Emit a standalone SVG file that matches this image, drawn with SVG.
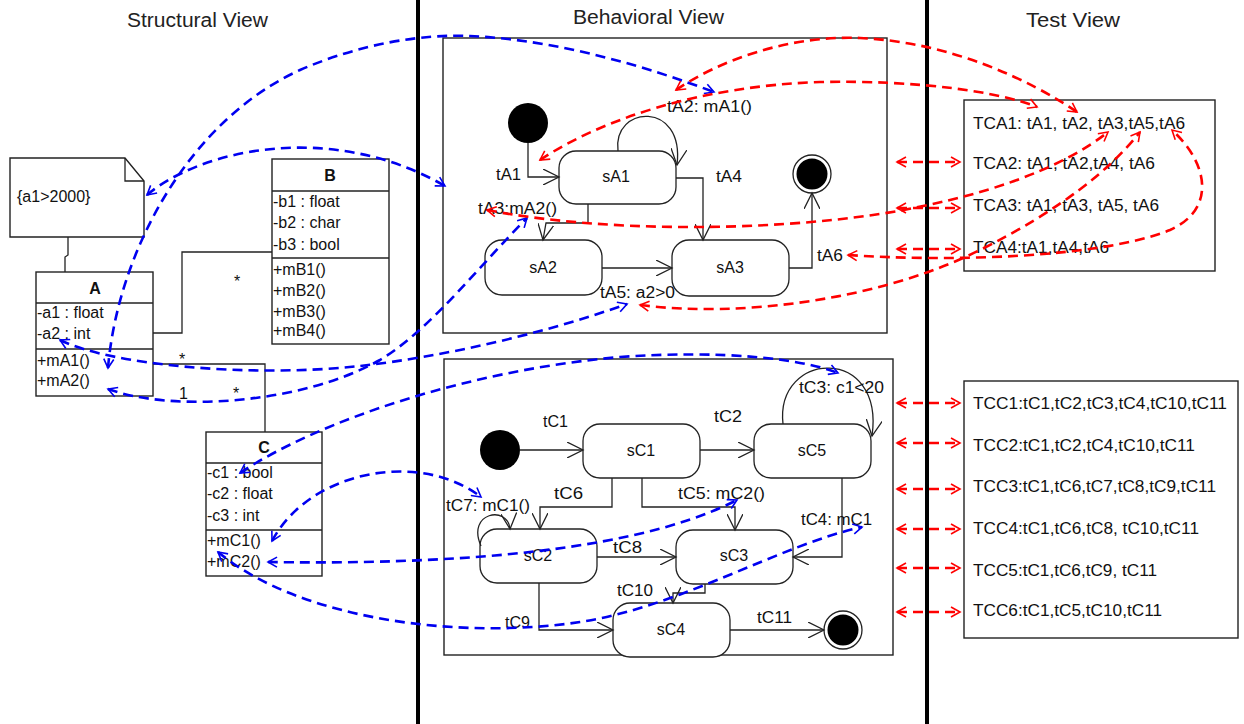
<svg xmlns="http://www.w3.org/2000/svg" width="1244" height="724" viewBox="0 0 1244 724">
<style>
text{font-family:"Liberation Sans",Arial,sans-serif;font-size:16px;fill:#111}
.title{font-size:20px;fill:#222}
.bold{font-weight:bold}
.box{fill:#fff;stroke:#222;stroke-width:1.4}
.frame{fill:none;stroke:#222;stroke-width:1.4}
.state{fill:#fff;stroke:#222;stroke-width:1.3}
.tr{fill:none;stroke:#222;stroke-width:1.3;marker-end:url(#open)}
.line{fill:none;stroke:#222;stroke-width:1.3}
.div{stroke:#000;stroke-width:4}
.blue{fill:none;stroke:#0000f0;stroke-width:2.6;stroke-dasharray:10 6;marker-start:url(#bArr);marker-end:url(#bArr)}
.red{fill:none;stroke:#f00;stroke-width:2.6;stroke-dasharray:10 6;marker-start:url(#rArr);marker-end:url(#rArr)}
.c{text-anchor:middle}
</style>
<defs>
<marker id="open" markerUnits="userSpaceOnUse" viewBox="0 0 18 16" markerWidth="18" markerHeight="16" refX="16" refY="8" orient="auto">
<path d="M0,0 L16,8 L0,16" fill="none" stroke="#222" stroke-width="1.3"/>
</marker>
<marker id="bArr" markerUnits="userSpaceOnUse" viewBox="0 0 12 12" markerWidth="12" markerHeight="12" refX="10" refY="6" orient="auto-start-reverse">
<path d="M1,1 L10,6 L1,11" fill="none" stroke="#0000f0" stroke-width="1.6"/>
</marker>
<marker id="rArr" markerUnits="userSpaceOnUse" viewBox="0 0 12 12" markerWidth="12" markerHeight="12" refX="10" refY="6" orient="auto-start-reverse">
<path d="M1,1 L10,6 L1,11" fill="none" stroke="#f00" stroke-width="1.6"/>
</marker>
</defs>
<rect width="1244" height="724" fill="#fff"/>

<!-- titles and dividers -->
<g id="titles">
<text class="title" x="127" y="27" textLength="141" lengthAdjust="spacingAndGlyphs">Structural View</text>
<text class="title" x="573" y="24" textLength="151" lengthAdjust="spacingAndGlyphs">Behavioral View</text>
<text class="title" x="1026" y="27" textLength="94" lengthAdjust="spacingAndGlyphs">Test View</text>
</g>
<g id="dividers">
<line class="div" x1="418" y1="0" x2="418" y2="724"/>
<line class="div" x1="927" y1="0" x2="927" y2="724"/>
</g>

<!-- Structural view -->
<g id="note">
<path class="box" d="M10,158 L125,158 L144,181 L144,237 L10,237 Z"/>
<path class="line" d="M125,158 L125,181 L144,181"/>
<text x="17" y="202">{a1&gt;2000}</text>
</g>
<g id="classA">
<rect class="box" x="36" y="272" width="117" height="124"/>
<line class="line" x1="36" y1="303" x2="153" y2="303"/>
<line class="line" x1="36" y1="349" x2="153" y2="349"/>
<text class="bold c" x="95" y="294">A</text>
<text x="37" y="318">-a1 : float</text>
<text x="37" y="339">-a2 : int</text>
<text x="37" y="366">+mA1()</text>
<text x="37" y="386">+mA2()</text>
</g>
<g id="classB">
<rect class="box" x="272" y="159" width="117" height="185"/>
<line class="line" x1="272" y1="191" x2="389" y2="191"/>
<line class="line" x1="272" y1="258" x2="389" y2="258"/>
<text class="bold c" x="330" y="181">B</text>
<text x="273" y="207">-b1 : float</text>
<text x="273" y="228">-b2 : char</text>
<text x="273" y="250">-b3 : bool</text>
<text x="273" y="275">+mB1()</text>
<text x="273" y="296">+mB2()</text>
<text x="273" y="317">+mB3()</text>
<text x="273" y="336">+mB4()</text>
</g>
<g id="classC">
<rect class="box" x="206" y="432" width="116" height="144"/>
<line class="line" x1="206" y1="463" x2="322" y2="463"/>
<line class="line" x1="206" y1="530" x2="322" y2="530"/>
<text class="bold c" x="264" y="453">C</text>
<text x="207" y="478">-c1 : bool</text>
<text x="207" y="499">-c2 : float</text>
<text x="207" y="521">-c3 : int</text>
<text x="207" y="546">+mC1()</text>
<text x="207" y="567">+mC2()</text>
</g>
<g id="associations">
<polyline class="line" points="68,237 68,255 65,257 65,272"/>
<polyline class="line" points="153,333 182,333 182,252 272,252"/>
<polyline class="line" points="153,364 265,364 265,432"/>
<text x="234" y="287">*</text>
<text x="179" y="365">*</text>
<text x="179" y="399">1</text>
<text x="233" y="399">*</text>
</g>

<!-- Behavioral view: top state machine -->
<g id="smA">
<rect class="frame" x="443" y="38" width="444" height="295"/>
<g id="initA"><circle cx="528" cy="123" r="20" fill="#000"/></g>
<g id="sA1"><rect class="state" x="559" y="151" width="117" height="53" rx="17"/><text class="c" x="616" y="182">sA1</text></g>
<g id="sA2"><rect class="state" x="485" y="240" width="117" height="55" rx="17"/><text class="c" x="543" y="273">sA2</text></g>
<g id="sA3"><rect class="state" x="672" y="240" width="117" height="56" rx="17"/><text class="c" x="730" y="273">sA3</text></g>
<g id="finalA"><circle cx="812" cy="174" r="19" fill="#fff" stroke="#222" stroke-width="1.3"/><circle cx="812" cy="174" r="15.5" fill="#000"/></g>
</g>
<g id="smA-transitions">
<path class="tr" d="M528,143 L528,177 L559,177"/>
<path class="tr" d="M618,151 C612,105 685,100 677,165"/>
<path class="tr" d="M676,178 L703,178 L703,240"/>
<path class="tr" d="M588,204 L588,223 L546,223 L543,240"/>
<path class="tr" d="M602,268 L672,268"/>
<path class="tr" d="M789,268 L812,268 L812,193"/>
<text x="496" y="180" textLength="25" lengthAdjust="spacingAndGlyphs">tA1</text>
<text x="667" y="112" textLength="85" lengthAdjust="spacingAndGlyphs">tA2: mA1()</text>
<text x="716" y="182" textLength="26" lengthAdjust="spacingAndGlyphs">tA4</text>
<text x="478" y="214" textLength="79" lengthAdjust="spacingAndGlyphs">tA3:mA2()</text>
<text x="600" y="298" textLength="75" lengthAdjust="spacingAndGlyphs">tA5: a2&gt;0</text>
<text x="817" y="261" textLength="26" lengthAdjust="spacingAndGlyphs">tA6</text>
</g>

<!-- Behavioral view: bottom state machine -->
<g id="smC">
<rect class="frame" x="444" y="359" width="449" height="296"/>
<g id="initC"><circle cx="500" cy="450" r="20" fill="#000"/></g>
<g id="sC1"><rect class="state" x="583" y="424" width="117" height="54" rx="17"/><text class="c" x="641" y="456">sC1</text></g>
<g id="sC5"><rect class="state" x="754" y="424" width="117" height="54" rx="17"/><text class="c" x="812" y="456">sC5</text></g>
<g id="sC2"><rect class="state" x="480" y="529" width="117" height="54" rx="17"/><text class="c" x="538" y="561">sC2</text></g>
<g id="sC3"><rect class="state" x="676" y="530" width="117" height="54" rx="17"/><text class="c" x="734" y="561">sC3</text></g>
<g id="sC4"><rect class="state" x="613" y="603" width="117" height="54" rx="17"/><text class="c" x="671" y="635">sC4</text></g>
<g id="finalC"><circle cx="843" cy="630" r="19" fill="#fff" stroke="#222" stroke-width="1.3"/><circle cx="843" cy="630" r="15.5" fill="#000"/></g>
</g>
<g id="smC-transitions">
<path class="tr" d="M520,450 L583,450"/>
<path class="tr" d="M700,450 L754,450"/>
<path class="tr" d="M783,424 C775,350 885,345 872,436"/>
<path class="tr" d="M612,478 L612,507 L540,507 L540,529"/>
<path class="tr" d="M642,478 L642,507 L735,507 L735,530"/>
<path class="tr" d="M842,478 L842,557 L793,557"/>
<path class="tr" d="M597,557 L676,557"/>
<path class="tr" d="M705,584 L705,593 L673,593 L673,603"/>
<path class="tr" d="M539,583 L539,630 L613,630"/>
<path class="tr" d="M730,630 L824,630"/>
<path class="tr" d="M481,546 C466,512 508,505 510,529"/>
<text x="543" y="427" textLength="25" lengthAdjust="spacingAndGlyphs">tC1</text>
<text x="714" y="422" textLength="28" lengthAdjust="spacingAndGlyphs">tC2</text>
<text x="799" y="393" textLength="85" lengthAdjust="spacingAndGlyphs">tC3: c1&lt;20</text>
<text x="554" y="499" textLength="29" lengthAdjust="spacingAndGlyphs">tC6</text>
<text x="678" y="499" textLength="87" lengthAdjust="spacingAndGlyphs">tC5: mC2()</text>
<text x="446" y="511" textLength="84" lengthAdjust="spacingAndGlyphs">tC7: mC1()</text>
<text x="801" y="525" textLength="71" lengthAdjust="spacingAndGlyphs">tC4: mC1</text>
<text x="613" y="553" textLength="29" lengthAdjust="spacingAndGlyphs">tC8</text>
<text x="617" y="596" textLength="36" lengthAdjust="spacingAndGlyphs">tC10</text>
<text x="505" y="628" textLength="25" lengthAdjust="spacingAndGlyphs">tC9</text>
<text x="757" y="623" textLength="35" lengthAdjust="spacingAndGlyphs">tC11</text>
</g>

<!-- Test view -->
<g id="testA">
<rect class="box" x="964" y="100" width="251" height="171"/>
<text x="973" y="129" textLength="212" lengthAdjust="spacingAndGlyphs">TCA1: tA1, tA2, tA3,tA5,tA6</text>
<text x="973" y="169" textLength="182" lengthAdjust="spacingAndGlyphs">TCA2: tA1, tA2,tA4, tA6</text>
<text x="973" y="211" textLength="186" lengthAdjust="spacingAndGlyphs">TCA3: tA1, tA3, tA5, tA6</text>
<text x="973" y="253" textLength="136" lengthAdjust="spacingAndGlyphs">TCA4:tA1,tA4,tA6</text>
</g>
<g id="testC">
<rect class="box" x="964" y="381" width="274" height="257"/>
<text x="973" y="409" textLength="254" lengthAdjust="spacingAndGlyphs">TCC1:tC1,tC2,tC3,tC4,tC10,tC11</text>
<text x="973" y="451" textLength="222" lengthAdjust="spacingAndGlyphs">TCC2:tC1,tC2,tC4,tC10,tC11</text>
<text x="973" y="492" textLength="243" lengthAdjust="spacingAndGlyphs">TCC3:tC1,tC6,tC7,tC8,tC9,tC11</text>
<text x="973" y="534" textLength="226" lengthAdjust="spacingAndGlyphs">TCC4:tC1,tC6,tC8, tC10,tC11</text>
<text x="973" y="576" textLength="184" lengthAdjust="spacingAndGlyphs">TCC5:tC1,tC6,tC9, tC11</text>
<text x="973" y="616" textLength="189" lengthAdjust="spacingAndGlyphs">TCC6:tC1,tC5,tC10,tC11</text>
</g>

<!-- traceability connectors -->
<g id="connectors">
<path class="blue" d="M108,368 C118,250 190,120 300,70 C360,44 420,34 470,36 C560,40 650,68 714,92"/>
<path class="blue" d="M147,195 C200,150 330,120 445,186"/>
<path class="blue" d="M60,340 C110,365 250,378 360,366 C440,357 540,335 627,304"/>
<path class="blue" d="M108,389 C170,412 300,405 380,360 C430,330 480,265 527,218"/>
<path class="blue" d="M240,473 C320,420 470,370 620,357 C720,350 800,358 838,373"/>
<path class="blue" d="M272,541 C310,470 420,450 481,497"/>
<path class="blue" d="M268,562 C400,564 620,560 737,500"/>
<path class="blue" d="M218,552 C300,620 460,640 580,622 C680,607 780,545 862,527"/>
<path class="red" d="M540,160 C600,120 700,86 820,82 C920,80 1000,92 1037,107"/>
<path class="red" d="M676,90 C720,60 790,35 860,38 C950,42 1030,80 1077,112"/>
<path class="red" d="M487,210 C600,232 760,232 880,214 C980,198 1060,170 1108,132"/>
<path class="red" d="M640,305 C740,318 880,300 980,250 C1060,210 1110,170 1140,132"/>
<path class="red" d="M848,255 C950,262 1100,258 1170,230 C1215,210 1210,165 1172,130"/>
<path class="red" d="M897,162 L960,162"/>
<path class="red" d="M897,208 L960,208"/>
<path class="red" d="M897,249 L960,249"/>
<path class="red" d="M897,403 L960,403"/>
<path class="red" d="M897,443 L960,443"/>
<path class="red" d="M897,489 L960,489"/>
<path class="red" d="M897,529 L960,529"/>
<path class="red" d="M897,568 L960,568"/>
<path class="red" d="M897,612 L960,612"/>
</g>
</svg>
